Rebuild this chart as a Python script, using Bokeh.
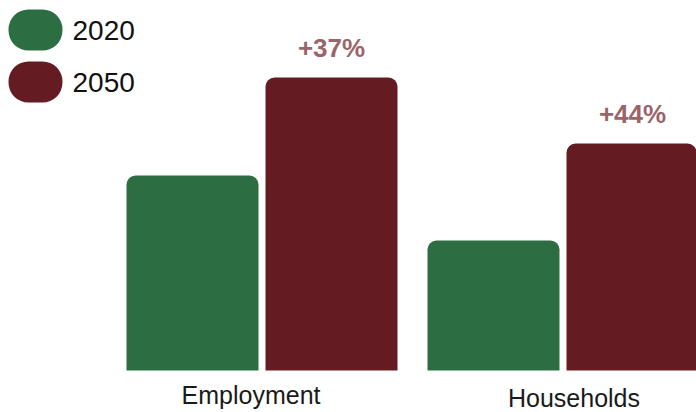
from bokeh.plotting import figure
from bokeh.models import ColumnDataSource, Range1d
from bokeh.transform import dodge
from bokeh.core.properties import value
from bokeh.embed import file_html
from bokeh.resources import INLINE

categories = ["Employment", "Households"]
years = ["2020", "2050"]
values_2020 = [195, 130]
values_2050 = [293, 227]
change_labels = ["+37%", "+44%"]

GREEN = "#2c6e41"
RED = "#641c22"
LABEL = "#9b6469"
FONT = "Liberation Sans"
W, H = 696, 412

# label nudges (screen px)
cat_dx = [-11, 11]
cat_dy = [38, 41]

idx = list(range(len(categories)))
src = ColumnDataSource(dict(x=idx, v2020=values_2020, v2050=values_2050,
                            lab=change_labels, cat=categories,
                            zero=[0] * len(categories), dx=cat_dx, dy=cat_dy))

p = figure(width=W, height=H,
           x_range=Range1d(-0.8688, 1.4435), y_range=Range1d(-42, 370),
           output_backend="svg", toolbar_location=None, min_border=0,
           x_axis_location=None, y_axis_location=None)
p.outline_line_color = None
p.xgrid.visible = False
p.ygrid.visible = False
p.background_fill_color = "white"

off = 0.2309
bw = 0.4385
p.vbar(x=dodge("x", -off, range=p.x_range), top="v2020", width=bw, source=src,
       fill_color=GREEN, line_color=None, border_radius=(9, 9, 0, 0))
p.vbar(x=dodge("x", off, range=p.x_range), top="v2050", width=bw, source=src,
       fill_color=RED, line_color=None, border_radius=(9, 9, 0, 0))

p.text(x=dodge("x", off, range=p.x_range), y="v2050", text="lab", source=src,
       text_font=value(FONT), text_font_style="bold", text_font_size="26px",
       text_color=LABEL, text_align="center", text_baseline="bottom", y_offset=-15)

p.text(x="x", y="zero", text="cat", source=src, x_offset="dx", y_offset="dy",
       text_font=value(FONT), text_font_size="25px", text_color="#1a1a1a",
       text_align="center", text_baseline="bottom")

# legend drawn in a pixel coordinate system (pill swatches + labels)
p.extra_x_ranges = {"px": Range1d(0, W)}
p.extra_y_ranges = {"px": Range1d(H, 0)}
sw_w, sw_h, sw_gap, sw_left, sw_top = 54, 41, 11, 8, 9
leg = ColumnDataSource(dict(
    x=[sw_left + sw_w / 2] * len(years),
    y=[sw_top + sw_h / 2 + i * (sw_h + sw_gap) for i in range(len(years))],
    tx=[sw_left + sw_w + 10] * len(years),
    label=years,
    color=[GREEN, RED],
))
p.rect(x="x", y="y", width=sw_w, height=sw_h, source=leg,
       width_units="screen", height_units="screen",
       fill_color="color", line_color=None, border_radius=20,
       x_range_name="px", y_range_name="px")
p.text(x="tx", y="y", text="label", source=leg,
       text_font=value(FONT), text_font_size="28px", text_color="#111111",
       text_align="left", text_baseline="middle",
       x_range_name="px", y_range_name="px")

open("out.html", "w").write(file_html(p, INLINE))
